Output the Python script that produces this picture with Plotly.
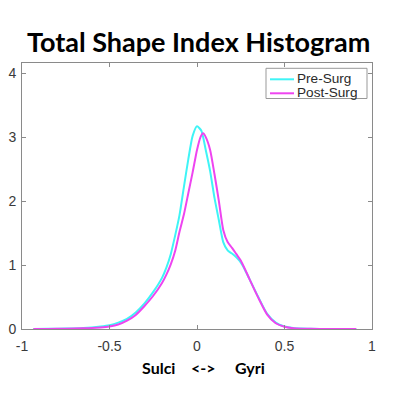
import plotly.graph_objects as go

# ---- data ----
pre_x = [-0.935, -0.85, -0.75, -0.65, -0.55, -0.5, -0.45, -0.4, -0.35, -0.3, -0.25, -0.2,
         -0.175, -0.15, -0.125, -0.1, -0.075, -0.05, -0.025, 0.0, 0.025, 0.05, 0.075, 0.1,
         0.125, 0.15, 0.175, 0.2, 0.225, 0.25, 0.275, 0.3, 0.35, 0.4, 0.45, 0.5, 0.55, 0.6,
         0.65, 0.75, 0.85, 0.91]
pre_y = [0.0, 0.002, 0.006, 0.015, 0.04, 0.06, 0.1, 0.16, 0.26, 0.4, 0.58, 0.8,
         0.96, 1.17, 1.46, 1.78, 2.22, 2.65, 3.02, 3.17, 3.1, 2.8, 2.47, 2.05,
         1.7, 1.36, 1.23, 1.18, 1.12, 1.04, 0.92, 0.78, 0.5, 0.24, 0.1, 0.04, 0.015, 0.006,
         0.003, 0.001, 0.0, 0.0]

post_x = [-0.935, -0.85, -0.75, -0.65, -0.55, -0.5, -0.45, -0.4, -0.35, -0.3, -0.25, -0.2,
          -0.175, -0.15, -0.125, -0.1, -0.075, -0.05, -0.025, 0.0, 0.02, 0.035, 0.05, 0.075,
          0.1, 0.125, 0.15, 0.175, 0.2, 0.225, 0.25, 0.275, 0.3, 0.35, 0.4, 0.45, 0.5, 0.55,
          0.6, 0.65, 0.75, 0.85, 0.91]
post_y = [0.0, 0.001, 0.004, 0.01, 0.025, 0.04, 0.07, 0.13, 0.22, 0.36, 0.52, 0.72,
          0.85, 1.01, 1.22, 1.52, 1.79, 2.12, 2.45, 2.8, 3.0, 3.06, 3.0, 2.8,
          2.42, 2.0, 1.55, 1.36, 1.27, 1.17, 1.07, 0.93, 0.78, 0.49, 0.23, 0.09, 0.035, 0.012,
          0.005, 0.002, 0.001, 0.0, 0.0]

series_names = ["Pre-Surg", "Post-Surg"]
series_colors = ["#3ff4f6", "#ee44f0"]
x_ticks = [-1, -0.5, 0, 0.5, 1]
x_tick_labels = ["-1", "-0.5", "0", "0.5", "1"]
y_ticks = [0, 1, 2, 3, 4]
y_tick_labels = ["0", "1", "2", "3", "4"]

title_text = "Total Shape Index Histogram"
xlabel_text = "Sulci &nbsp;&nbsp; &lt;-&gt; &nbsp;&nbsp;&nbsp; Gyri"

fig = go.Figure()
for xs, ys, nm, col in [(pre_x, pre_y, series_names[0], series_colors[0]),
                        (post_x, post_y, series_names[1], series_colors[1])]:
    fig.add_trace(go.Scatter(x=xs, y=ys, mode="lines", name=nm, showlegend=False,
                             line=dict(color=col, width=2, shape="spline", smoothing=0.6)))

axis_color = "#8a8a8a"
tick_font = dict(family="Liberation Sans, Arial, sans-serif", size=14, color="#3a3a3a")

# plot-area geometry in pixels (for placing legend/title in paper coords)
L, R, T, B = 22, 28, 63, 65
W, H = 400, 394
PW, PH = W - L - R, H - T - B
def px(xp):
    return (xp - L) / PW
def py(yp):
    return (H - B - yp) / PH

shapes = [dict(type="rect", xref="paper", yref="paper",
               x0=px(266), x1=px(367), y0=py(98.5), y1=py(68.3),
               line=dict(color="#999999", width=1), fillcolor="white", layer="above")]
annotations = []
for i, (nm, col) in enumerate(zip(series_names, series_colors)):
    yy = 79.3 + i * 14
    shapes.append(dict(type="line", xref="paper", yref="paper",
                       x0=px(270), x1=px(294), y0=py(yy), y1=py(yy),
                       line=dict(color=col, width=2), layer="above"))
    annotations.append(dict(text=nm, xref="paper", yref="paper", x=px(296), y=py(yy - 0.3),
                            xanchor="left", yanchor="middle", showarrow=False,
                            height=13.9, borderpad=0, valign="middle",
                            font=dict(family="Liberation Sans, Arial, sans-serif", size=13.6,
                                      color="#2a2a2a")))

annotations += [
    dict(text="<b>" + title_text + "</b>", xref="paper", yref="paper",
         x=px(199), y=py(41), xanchor="center", yanchor="middle",
         showarrow=False, font=dict(family="Lato, sans-serif", size=27, color="black")),
    dict(text="<b>" + xlabel_text + "</b>", xref="paper", yref="paper",
         x=px(203), y=py(367), xanchor="center", yanchor="middle",
         showarrow=False, font=dict(family="Lato, sans-serif", size=16, color="black")),
]

fig.update_layout(
    width=W, height=H,
    margin=dict(l=L, r=R, t=T, b=B),
    paper_bgcolor="white", plot_bgcolor="white",
    showlegend=False,
    xaxis=dict(range=[-1, 1], tickvals=x_ticks, ticktext=x_tick_labels, automargin=False,
               showgrid=False, zeroline=False, showline=True, linecolor=axis_color, linewidth=1,
               mirror="ticks", ticks="inside", ticklen=4, tickcolor=axis_color,
               tickfont=tick_font, ticklabelstandoff=4),
    yaxis=dict(range=[0, 4.16], tickvals=y_ticks, ticktext=y_tick_labels, automargin=False,
               showgrid=False, zeroline=False, showline=True, linecolor=axis_color, linewidth=1,
               mirror="ticks", ticks="inside", ticklen=4, tickcolor=axis_color,
               tickfont=tick_font, ticklabelstandoff=2),
    shapes=shapes,
    annotations=annotations,
)

fig.write_html("out.html", config={"displayModeBar": False},
               post_script="document.body.style.margin='0';")
